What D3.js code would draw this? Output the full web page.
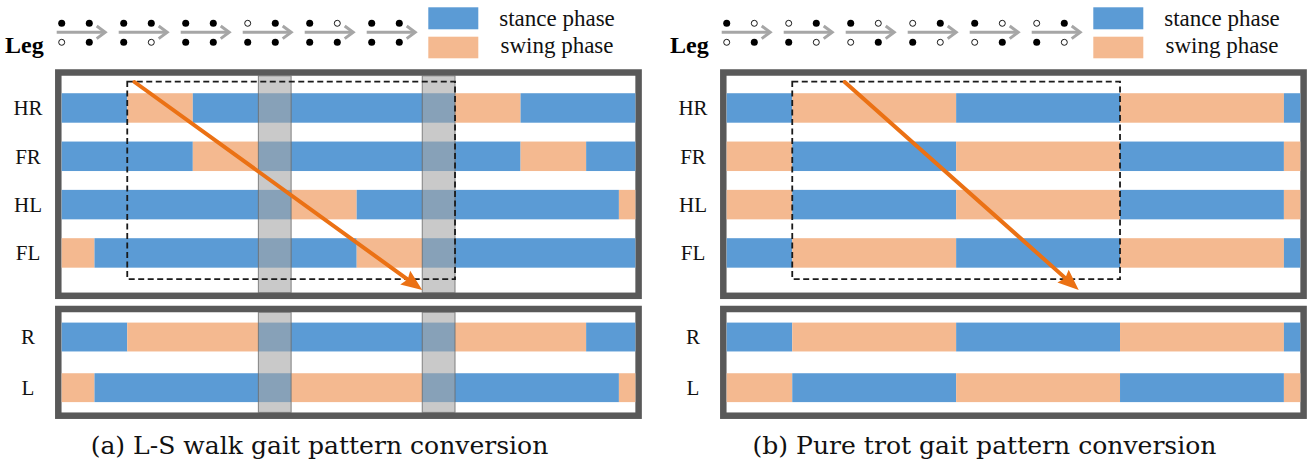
<!DOCTYPE html>
<html><head><meta charset="utf-8">
<script src="https://cdn.jsdelivr.net/npm/d3@7"></script>
<style>body{margin:0;background:#fff}</style>
</head><body>
<svg id="c" width="1309" height="465"></svg>
<script>
// ---------- data ----------
const legRows = ["HR", "FR", "HL", "FL"];
const sideRows = ["R", "L"];
const phaseNames = ["stance phase", "swing phase"];
const timeDomain = [0, 8.75];
// segments: [start, end, phase]  phase 0 = stance, 1 = swing
const walkHR = [[0,1,0],[1,2,1],[2,6,0],[6,7,1],[7,8.75,0]];
const walkFR = [[0,2,0],[2,3,1],[3,7,0],[7,8,1],[8,8.75,0]];
const walkHL = [[0,3.5,0],[3.5,4.5,1],[4.5,8.5,0],[8.5,8.75,1]];
const walkFL = [[0,0.5,1],[0.5,4.5,0],[4.5,5.5,1],[5.5,8.75,0]];
const walkR  = [[0,1,0],[1,3,1],[3,6,0],[6,8,1],[8,8.75,0]];
const walkL  = [[0,0.5,1],[0.5,3.5,0],[3.5,5.5,1],[5.5,8.5,0],[8.5,8.75,1]];
const trotHR = [[0,1,0],[1,3.5,1],[3.5,6,0],[6,8.5,1],[8.5,8.75,0]];
const trotFR = [[0,1,1],[1,3.5,0],[3.5,6,1],[6,8.5,0],[8.5,8.75,1]];
const trotHL = [[0,1,1],[1,3.5,0],[3.5,6,1],[6,8.5,0],[8.5,8.75,1]];
const trotFL = [[0,1,0],[1,3.5,1],[3.5,6,0],[6,8.5,1],[8.5,8.75,0]];
const trotR  = [[0,1,0],[1,3.5,1],[3.5,6,0],[6,8.5,1],[8.5,8.75,0]];
const trotL  = [[0,1,1],[1,3.5,0],[3.5,6,1],[6,8.5,0],[8.5,8.75,1]];
// four-leg support windows (walk only)
const walkBands = [[3,3.5],[5.5,6]];
const trotBands = [];
// foot-contact icons: [top-left, top-right, bottom-left, bottom-right], 1 = contact
const walkDots = [[1,1,0,1],[1,1,1,0],[1,1,1,1],[0,1,1,1],[1,0,1,1],[1,1,1,1]];
const trotDots = [[1,0,0,1],[0,1,1,0],[1,0,0,1],[0,1,1,0],[1,0,0,1],[0,1,1,0]];
// dashed window and conversion arrow (time units)
const walkBox = [1, 6];
const trotBox = [1, 6];
const walkArrow = [1.11, 5.5];
const trotArrow = [1.8, 5.37];
const captions = ["(a) L-S walk gait pattern conversion", "(b) Pure trot gait pattern conversion"];

// ---------- styles ----------
const C_ST = "#5b9bd5", C_SW = "#f4b990", C_FRAME = "#595959", C_ARR = "#eb7114";
const svg = d3.select("#c");

function panel(dx, legSegs, sideSegs, bands, dots, box, arrow, caption) {
  const g = svg.append("g").attr("transform", `translate(${dx},0)`);
  const x = d3.scaleLinear().domain(timeDomain).range([61.7, 635.3]);
  const yTop = d3.scaleBand().domain(legRows).range([83.8, 277.1]).paddingInner(0.39).paddingOuter(0.195);
  const yBot = d3.scaleBand().domain(sideRows).range([311.7, 413]).paddingInner(0.43).paddingOuter(0.215);

  // frames (white inside)
  [[72.5, 223.3], [309, 106.7]].forEach(([fy, fh]) => {
    g.append("rect").attr("x", 58.3).attr("y", fy).attr("width", 580.3).attr("height", fh)
      .attr("fill", "#fff").attr("stroke", C_FRAME).attr("stroke-width", 6.5);
  });

  // bars
  const drawRows = (rows, segs, y) => {
    rows.forEach((r, i) => {
      g.selectAll(null).data(segs[i]).join("rect")
        .attr("x", d => x(d[0])).attr("width", d => x(d[1]) - x(d[0]))
        .attr("y", y(r)).attr("height", y.bandwidth())
        .attr("fill", d => d[2] ? C_SW : C_ST);
    });
    g.selectAll(null).data(rows).join("text")
      .attr("x", 28).attr("y", d => y(d) + y.bandwidth() / 2)
      .attr("dy", "0.35em").attr("text-anchor", "middle")
      .attr("font-family", "Liberation Serif").attr("font-size", 21).attr("fill", "#111")
      .text(d => d);
  };
  drawRows(legRows, legSegs, yTop);
  drawRows(sideRows, sideSegs, yBot);

  // gray four-leg support bands
  [[75.8, 292.7], [312.3, 412.4]].forEach(([y0, y1]) => {
    g.selectAll(null).data(bands).join("rect")
      .attr("x", d => x(d[0])).attr("width", d => x(d[1]) - x(d[0]))
      .attr("y", y0).attr("height", y1 - y0)
      .attr("fill", "rgb(165,165,165)").attr("fill-opacity", 0.6)
      .attr("stroke", "#6a6a6a").attr("stroke-opacity", 0.8).attr("stroke-width", 1);
  });

  // dashed window
  const r = yTop.range();
  g.append("rect").attr("x", x(box[0])).attr("y", r[0] - 2.1)
    .attr("width", x(box[1]) - x(box[0])).attr("height", r[1] - r[0] + 4.1)
    .attr("fill", "none").attr("stroke", "#1a1a1a").attr("stroke-width", 1.8)
    .attr("stroke-dasharray", "6,3.5");

  // orange arrow
  const ax0 = x(arrow[0]), ay0 = r[0] - 1.8, ax1 = x(arrow[1]), ay1 = 290;
  const ang = Math.atan2(ay1 - ay0, ax1 - ax0), L = 21, W = 8.5;
  const bx = ax1 - L * Math.cos(ang), by = ay1 - L * Math.sin(ang);
  g.append("line").attr("x1", ax0).attr("y1", ay0).attr("x2", bx + 2 * Math.cos(ang)).attr("y2", by + 2 * Math.sin(ang))
    .attr("stroke", C_ARR).attr("stroke-width", 4).attr("stroke-linecap", "round");
  g.append("path").attr("d", d3.line()([
      [ax1, ay1],
      [bx + W * Math.sin(ang), by - W * Math.cos(ang)],
      [bx + 3 * Math.cos(ang), by + 3 * Math.sin(ang)],
      [bx - W * Math.sin(ang), by + W * Math.cos(ang)]]) + "Z")
    .attr("fill", C_ARR);

  // header: Leg label
  g.append("text").attr("x", 5).attr("y", 52.5).attr("font-family", "Liberation Serif")
    .attr("font-weight", "bold").attr("font-size", 24).attr("fill", "#000").text("Leg");

  // foot-contact icons with arrows
  const gx = d3.scaleLinear().domain([0, 5]).range([61.7, 371.7]);
  dots.forEach((st, i) => {
    const x0 = gx(i);
    const ag = g.append("g").attr("stroke", "#a6a6a6").attr("stroke-width", 3).attr("fill", "none");
    ag.append("line").attr("x1", x0 - 5).attr("x2", x0 + 43).attr("y1", 32.3).attr("y2", 32.3);
    ag.append("path").attr("d", d3.line()([[x0 + 35, 26], [x0 + 43.5, 32.3], [x0 + 35, 38.6]]));
    const pos = [[0, 23.3], [27.6, 23.3], [0, 42.3], [27.6, 42.3]];
    pos.forEach((p, k) => {
      g.append("circle").attr("cx", x0 + p[0]).attr("cy", p[1])
        .attr("r", st[k] ? 3.5 : 3)
        .attr("fill", st[k] ? "#000" : "#fff")
        .attr("stroke", "#000").attr("stroke-width", st[k] ? 0 : 0.9);
    });
  });

  // legend
  const lg = g.append("g");
  lg.selectAll(null).data(phaseNames).join("rect")
    .attr("x", 428.3).attr("width", 50).attr("y", (d, i) => i ? 36.7 : 7.3).attr("height", (d, i) => i ? 21.6 : 22)
    .attr("fill", (d, i) => i ? C_SW : C_ST);
  lg.selectAll(null).data(phaseNames).join("text")
    .attr("x", 557).attr("y", (d, i) => i ? 53 : 25.5).attr("text-anchor", "middle")
    .attr("font-family", "Liberation Serif").attr("font-size", 23).attr("fill", "#111")
    .text(d => d);

  // caption
  const cap = g.append("text").attr("x", 319.5).attr("y", 454.3).attr("text-anchor", "middle")
    .attr("font-family", "DejaVu Serif").attr("font-size", 22).attr("fill", "#111").text(caption);
  return cap;
}

const c1 = panel(0, [walkHR, walkFR, walkHL, walkFL], [walkR, walkL], walkBands, walkDots, walkBox, walkArrow, captions[0]);
const c2 = panel(665, [trotHR, trotFR, trotHL, trotFL], [trotR, trotL], trotBands, trotDots, trotBox, trotArrow, captions[1]);
// fit caption size to the width of caption (a)
const w1 = c1.node().getComputedTextLength();
const fs = 22 * 458 / w1;
c1.attr("font-size", fs); c2.attr("font-size", fs);
</script>
</body></html>
